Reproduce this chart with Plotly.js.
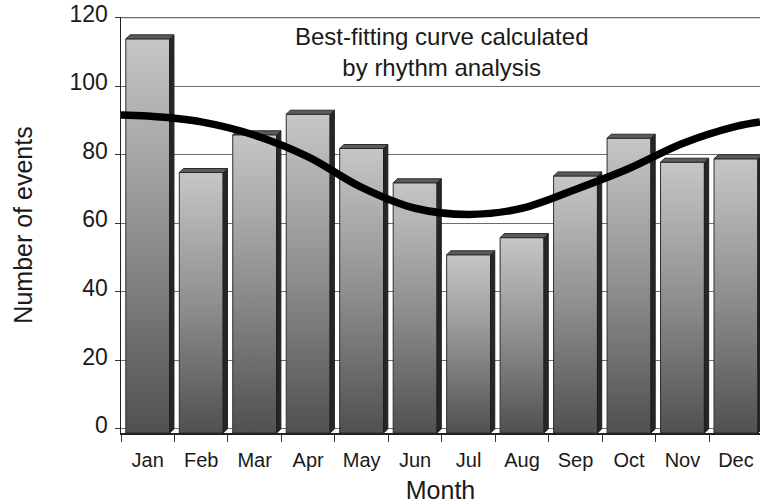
<!DOCTYPE html>
<html>
<head>
<meta charset="utf-8">
<script src="https://cdn.plot.ly/plotly-3.0.1.min.js"></script>
<style>html,body{margin:0;padding:0;background:#fff;} #chart{width:760px;height:504px;}</style>
</head>
<body>
<div id="chart"></div>
<script>
// ---- data ----
const months = ["Jan","Feb","Mar","Apr","May","Jun","Jul","Aug","Sep","Oct","Nov","Dec"];
const counts = [115, 76, 87, 93, 83, 73, 52, 57, 75, 86, 79, 80];
const curveX = [-0.5, 0, 1, 2, 3, 4, 5, 6, 7, 8, 9, 10, 11, 11.45];
const curveY = [91.6, 91.3, 89.6, 85.7, 79.4, 70.5, 64.4, 62.6, 64.4, 69.9, 76.0, 83.3, 88.3, 89.6];
const yTicks = [0, 20, 40, 60, 80, 100, 120];
const noteText = "Best-fitting curve calculated<br>by rhythm analysis";

// ---- style ----
const FONT = "Liberation Sans, Arial, Helvetica, sans-serif";
const HALF = 0.41;   // half width of front face
const DX = 0.08;     // 3D depth in x (category units)
const DY = 1.17;     // 3D depth in y (value units)
const GRID = "#6e6e6e";

const traces = [];
months.forEach((m, i) => {
  const v = counts[i];
  const l = i - HALF, r = i + HALF;
  // front face with vertical gradient
  traces.push({
    type: "scatter", mode: "lines", hoverinfo: "skip", showlegend: false,
    x: [l, r, r, l, l],
    y: [-DY, -DY, v - DY, v - DY, -DY],
    fill: "toself",
    fillgradient: {type: "vertical", start: -DY, stop: v - DY,
      colorscale: [[0, "#505050"], [0.5, "#8f8f8f"], [1, "#c6c6c6"]]},
    line: {color: "#2e2e2e", width: 1}
  });
  // right side
  traces.push({
    type: "scatter", mode: "lines", hoverinfo: "skip", showlegend: false,
    x: [r, r + DX, r + DX, r, r],
    y: [-DY, 0, v, v - DY, -DY],
    fill: "toself", fillcolor: "#262626",
    line: {color: "#1e1e1e", width: 1}
  });
  // top cap
  traces.push({
    type: "scatter", mode: "lines", hoverinfo: "skip", showlegend: false,
    x: [l, l + DX, r + DX, r, l],
    y: [v - DY, v, v, v - DY, v - DY],
    fill: "toself", fillcolor: "#5c5c5c",
    line: {color: "#2a2a2a", width: 1}
  });
});

// fitted curve
traces.push({
  type: "scatter", mode: "lines", hoverinfo: "skip", showlegend: false,
  x: curveX, y: curveY,
  line: {color: "#000", width: 7.5, shape: "spline", smoothing: 1}
});

const boundaries = months.map((m, i) => i - 0.5).concat([months.length - 0.5]);
const yTop = yTicks[yTicks.length - 1];

const layout = {
  width: 760, height: 504,
  margin: {l: 121, r: 0, t: 17, b: 71},
  paper_bgcolor: "#fff", plot_bgcolor: "#fff",
  font: {family: FONT, color: "#1a1a1a"},
  showlegend: false,
  xaxis: {
    range: [-0.5, 11.45],
    tickmode: "array",
    tickvals: months.map((m, i) => i),
    ticktext: months,
    ticks: "",
    ticklabelstandoff: 8,
    tickfont: {family: FONT, size: 20, color: "#1a1a1a"},
    minor: {tickmode: "array", tickvals: boundaries, ticks: "outside", ticklen: 7, tickwidth: 1, tickcolor: "#333", showgrid: false},
    showgrid: false, zeroline: false,
    showline: true, linecolor: "#222", linewidth: 1.5,
    title: {text: "Month", font: {family: FONT, size: 25, color: "#1a1a1a"}, standoff: 15},
    fixedrange: true
  },
  yaxis: {
    range: [-DY, 120.2],
    tickmode: "array",
    tickvals: yTicks,
    ticktext: yTicks.map(String),
    ticks: "outside", ticklen: 5, tickcolor: "#333",
    ticklabelshift: -4,
    ticklabelstandoff: 2,
    tickfont: {family: FONT, size: 23, color: "#1a1a1a"},
    showgrid: true, gridcolor: GRID, gridwidth: 1,
    zeroline: false,
    showline: true, linecolor: "#222", linewidth: 1.5,
    title: {text: "Number of events", font: {family: FONT, size: 25, color: "#1a1a1a"}, standoff: 30},
    fixedrange: true
  },
  shapes: [{
    type: "line", layer: "below", xref: "paper", yref: "y",
    x0: 0, x1: 1, y0: yTop, y1: yTop,
    line: {color: GRID, width: 1.2}
  }],
  annotations: [{
    x: 5.5, y: 110, xref: "x", yref: "y",
    text: noteText, showarrow: false,
    xanchor: "center", yanchor: "middle", align: "center",
    font: {family: FONT, size: 24, color: "#1a1a1a"}
  }]
};

Plotly.newPlot("chart", traces, layout, {displayModeBar: false, staticPlot: true});
</script>
</body>
</html>
